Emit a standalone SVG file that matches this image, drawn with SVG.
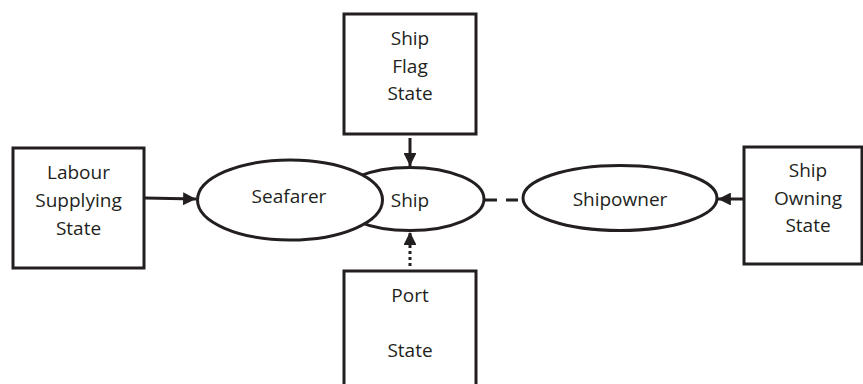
<svg xmlns="http://www.w3.org/2000/svg" width="863" height="384" viewBox="0 0 863 384">
<defs>
<style>
.box{fill:#fff;stroke:#231f20;stroke-width:3}
.ell{fill:#fff;stroke:#231f20;stroke-width:3}
.t{font-family:"Open Sans","Liberation Sans",sans-serif;font-size:19px;fill:#231f20;text-anchor:middle}
.c{stroke:#231f20;stroke-width:3;fill:none}
</style>
<marker id="ah" viewBox="0 0 10 10" refX="10" refY="5" markerWidth="4.3" markerHeight="4.3" markerUnits="strokeWidth" orient="auto">
<path d="M0,0 L10,5 L0,10 z" fill="#231f20"/>
</marker>
</defs>
<rect width="863" height="384" fill="#fff"/>
<g id="connectors">
<line class="c" x1="145" y1="198" x2="196" y2="199" marker-end="url(#ah)"/>
<line class="c" x1="410" y1="138" x2="410" y2="166" marker-end="url(#ah)"/>
<line class="c" x1="410" y1="266" x2="410" y2="232" stroke-dasharray="3,3" marker-end="url(#ah)"/>
<line class="c" x1="485" y1="200" x2="522" y2="200" stroke-dasharray="12,9"/>
<line class="c" x1="743" y1="199" x2="718" y2="199" marker-end="url(#ah)"/>
</g>
<g id="labour">
<rect class="box" x="13" y="148" width="131" height="120"/>
<text class="t" x="78.5" y="179">Labour</text>
<text class="t" x="78.5" y="207">Supplying</text>
<text class="t" x="78.5" y="235">State</text>
</g>
<g id="flag">
<rect class="box" x="344" y="14" width="132" height="120"/>
<text class="t" x="410" y="45">Ship</text>
<text class="t" x="410" y="73">Flag</text>
<text class="t" x="410" y="100">State</text>
</g>
<g id="ship">
<ellipse class="ell" cx="410" cy="199" rx="74" ry="31.5"/>
<text class="t" x="410" y="207">Ship</text>
</g>
<g id="seafarer">
<ellipse class="ell" cx="290" cy="200" rx="92.5" ry="40"/>
<text class="t" x="289" y="203">Seafarer</text>
</g>
<g id="port">
<rect class="box" x="344" y="271" width="132" height="130"/>
<text class="t" x="410" y="302">Port</text>
<text class="t" x="410" y="357">State</text>
</g>
<g id="shipowner">
<ellipse class="ell" cx="620" cy="198" rx="97" ry="32.5"/>
<text class="t" x="620" y="206">Shipowner</text>
</g>
<g id="owning">
<rect class="box" x="744" y="147" width="118" height="117"/>
<text class="t" x="808" y="177">Ship</text>
<text class="t" x="808" y="205">Owning</text>
<text class="t" x="808" y="232">State</text>
</g>
</svg>
